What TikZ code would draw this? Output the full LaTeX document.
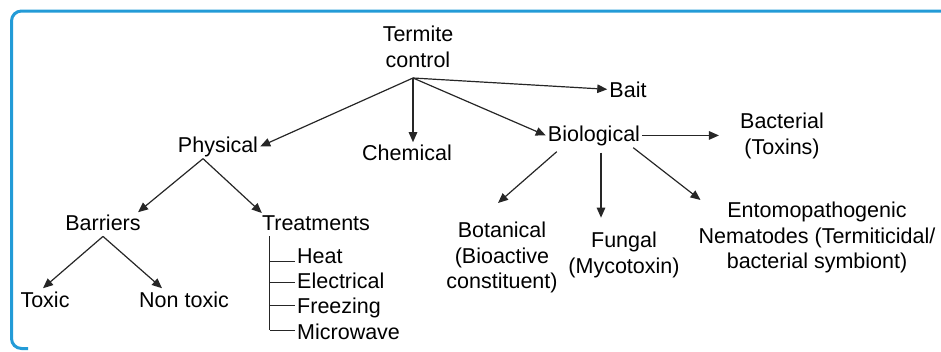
\documentclass[tikz,border=0pt]{standalone}
\usepackage{fontspec}
\setmainfont{Liberation Sans}
\usetikzlibrary{arrows.meta,calc}

\begin{document}
\begin{tikzpicture}[x=1pt, y=-1pt,
    every node/.style={inner sep=2pt, font=\fontsize{21.5}{25.5}\selectfont},
    tag/.style={align=center},
    arr/.style={-{Triangle[length=10pt,width=8.5pt]}, line width=1.2pt, black!85},
    rail/.style={line width=1.2pt, black!85}]
    \definecolor{frameBlue}{RGB}{35,155,215}

    % Canvas is 941 x 351 px, y grows downwards
    \useasboundingbox (0,0) rectangle (941,351);

    % Frame (right and bottom edges fall outside the crop)
    \draw[frameBlue, line width=3pt, rounded corners=10pt]
      (950,11) -- (11.5,11) -- (11.5,348.5) -- (28,348.5);

    % Root and the point its arrows fan out from
    \node[tag, anchor=north] (root) at (418,24) {Termite\\control};
    \coordinate (fork) at (413,78);

    % First level
    \node[anchor=base] (phys)  at (218,152) {Physical};
    \node[anchor=base] (chem)  at (407,160) {Chemical};
    \node[anchor=base] (bait)  at (628,97)  {Bait};
    \node[anchor=base] (bio)   at (594,141) {Biological};

    % Physical branch
    \node[anchor=base] (barr)   at (103,230) {Barriers};
    \node[anchor=base] (treat)  at (316,230) {Treatments};
    \node[anchor=base] (toxic)  at (45,307)  {Toxic};
    \node[anchor=base] (nontox) at (184,307) {Non toxic};
    \node[anchor=base west] (heat)  at (295,263.5) {Heat};
    \node[anchor=base west] (elec)  at (295,288.5) {Electrical};
    \node[anchor=base west] (freez) at (295,313.5) {Freezing};
    \node[anchor=base west] (micro) at (295,339)   {Microwave};

    % Biological branch
    \node[tag, anchor=north] (bact) at (782,111) {Bacterial\\(Toxins)};
    \node[tag, anchor=north] (bot)  at (502,220) {Botanical\\(Bioactive\\constituent)};
    \node[tag, anchor=north] (fung) at (624,230) {Fungal\\(Mycotoxin)};
    \node[tag, anchor=north] (ento) at (817,200) {Entomopathogenic\\Nematodes (Termiticidal/\\bacterial symbiont)};

    % Arrows from the root
    \draw[arr] (fork) -- (phys.east);
    \draw[arr] (fork) -- (fork |- chem.north);
    \draw[arr] (fork) -- (bait.west);
    \draw[arr] (fork) -- (bio.west);

    % Arrows below Physical
    \draw[arr] ($(phys.south)+(-15,0)$) -- ($(barr.north)+(35,0)$);
    \draw[arr] ($(phys.south)+(-15,0)$) -- ($(treat.north west)+(2,0)$);
    \draw[arr] ($(barr.south)+(0,4)$) -- ($(toxic.north)+(-2,-1)$);
    \draw[arr] ($(barr.south)+(0,4)$) -- ($(nontox.north)+(-22,-1)$);

    % Treatments list (ticks sit a little above each word)
    \coordinate (spine) at ($(treat.south west)+(10,4)$);
    \draw[rail] (spine) -- ($(spine |- micro.mid west)+(0,-6)$);
    \foreach \item/\dy in {heat/1, elec/-3, freez/-5, micro/-6}
      \draw[rail] ($(spine |- \item.mid west)+(0,\dy)$) -- ($(\item.mid west)+(0,\dy)$);

    % Arrows below Biological
    \draw[arr] (bio.east) -- ($(bio.east -| bact.west)+(-19,0)$);
    \draw[arr] ($(bio.south west)+(11,4)$) -- ($(bot.north)+(-4,-17)$);
    \draw[arr] ($(bio.south)+(7,5)$) -- ($(bio.south)+(7,70)$);
    \draw[arr] ($(bio.south east)+(-9,0)$) -- ($(ento.north west)+(4,0)$);
  \end{tikzpicture}
\end{document}
